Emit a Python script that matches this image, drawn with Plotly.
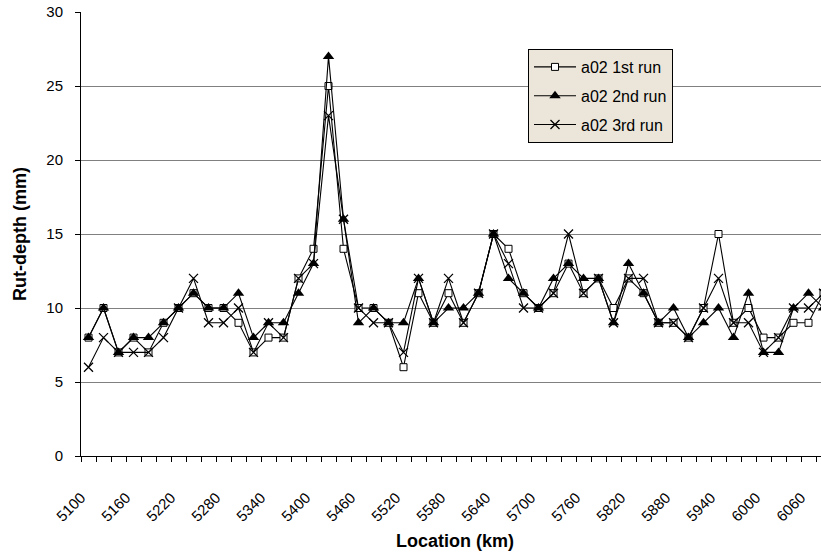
import plotly.graph_objects as go

# Categories (km)
locations = [5100 + 20 * i for i in range(50)]

run1 = [8, 10, 7, 8, 7, 9, 10, 11, 10, 10,
        9, 7, 8, 8, 12, 14, 25, 14, 10, 10,
        9, 6, 11, 9, 11, 9, 11, 15, 14, 11,
        10, 11, 13, 11, 12, 10, 12, 11, 9, 9,
        8, 10, 15, 9, 10, 8, 8, 9, 9, 11]
run2 = [8, 10, 7, 8, 8, 9, 10, 11, 10, 10,
        11, 8, 9, 9, 11, 13, 27, 16, 9, 10,
        9, 9, 12, 9, 10, 10, 11, 15, 12, 11,
        10, 12, 13, 12, 12, 9, 13, 11, 9, 10,
        8, 9, 10, 8, 11, 7, 7, 10, 11, 10]
run3 = [6, 8, 7, 7, 7, 8, 10, 12, 9, 9,
        10, 7, 9, 8, 12, 13, 23, 16, 10, 9,
        9, 7, 12, 9, 12, 9, 11, 15, 13, 10,
        10, 11, 15, 11, 12, 9, 12, 12, 9, 9,
        8, 10, 12, 9, 9, 7, 8, 10, 10, 11]

series_names = ["a02 1st run", "a02 2nd run", "a02 3rd run"]
tick_values = list(range(5100, 6061, 60))
tick_labels = [str(v) for v in tick_values]
category_step = 20

FONT = "Liberation Sans, Arial, sans-serif"

fig = go.Figure()
fig.add_trace(go.Scatter(
    x=locations, y=run1, name=series_names[0], mode="lines+markers",
    legendgroup="g1",
    line=dict(color="black", width=1.1),
    marker=dict(symbol="square", size=7, color="white",
                line=dict(color="black", width=1)),
))
fig.add_trace(go.Scatter(
    x=locations, y=run2, name=series_names[1], mode="lines+markers",
    legendgroup="g2",
    line=dict(color="black", width=1.1),
    marker=dict(symbol="triangle-up", size=10, color="black",
                line=dict(color="black", width=0)),
))
fig.add_trace(go.Scatter(
    x=locations, y=run3, name=series_names[2], mode="lines+markers",
    legendgroup="g3",
    line=dict(color="black", width=1.1),
    marker=dict(symbol="x-thin", size=9, color="black",
                line=dict(color="black", width=1.3)),
))

L, R, T, B = 81, 0, 12, 100
W, H = 821, 556
pw = W - L - R
ph = H - T - B
px_per_cat = 15
x_lo = locations[0] - category_step / 2
x_hi = x_lo + pw / px_per_cat * category_step

# Excel-style category axis: tick marks on category boundaries,
# label of a category hung from the boundary just left of its centre
boundaries = [x_lo + category_step * k for k in range(len(locations) + 1)]
label_map = dict(zip(tick_values, tick_labels))
boundary_text = [label_map.get(int(b + category_step / 2), "") for b in boundaries]

fig.update_layout(
    width=W, height=H,
    margin=dict(l=L, r=R, t=T, b=B, autoexpand=False),
    paper_bgcolor="white", plot_bgcolor="white",
    font=dict(family=FONT, size=14, color="black"),
    showlegend=True,
    legend=dict(
        x=(528 - L) / pw, y=(H - B - 49) / ph,
        xanchor="left", yanchor="top",
        bgcolor="#ECE6DA", bordercolor="black", borderwidth=1,
        font=dict(family=FONT, size=16, color="black"),
        tracegroupgap=5, itemwidth=42,
        entrywidthmode="pixels", entrywidth=105,
    ),
    xaxis=dict(
        range=[x_lo, x_hi],
        tickmode="array", tickvals=boundaries,
        ticktext=boundary_text, tickangle=-45,
        ticks="outside", ticklen=5, tickcolor="black", tickwidth=1,
        showgrid=False, zeroline=False,
        showline=True, linecolor="black", linewidth=1,
        tickfont=dict(family=FONT, size=15, color="black"),
        ticklabelstandoff=21,
        fixedrange=True,
    ),
    yaxis=dict(
        range=[0, 30], tickmode="linear", tick0=0, dtick=5,
        ticks="outside", ticklen=5, tickcolor="black",
        showgrid=True, gridcolor="#808080", gridwidth=1,
        zeroline=False, showline=True, linecolor="black", linewidth=1,
        tickfont=dict(family=FONT, size=15, color="black"),
        ticklabelstandoff=9,
        fixedrange=True,
    ),
    annotations=[
        dict(text="<b>Location (km)</b>", xref="paper", yref="paper",
             x=(455 - L) / pw, y=(H - B - 541) / ph,
             xanchor="center", yanchor="middle", showarrow=False,
             font=dict(family=FONT, size=18, color="black")),
        dict(text="<b>Rut-depth (mm)</b>", xref="paper", yref="paper",
             x=(20 - L) / pw, y=0.5, textangle=-90,
             xanchor="center", yanchor="middle", showarrow=False,
             font=dict(family=FONT, size=18, color="black")),
    ],
)

fig.write_html("out.html")
